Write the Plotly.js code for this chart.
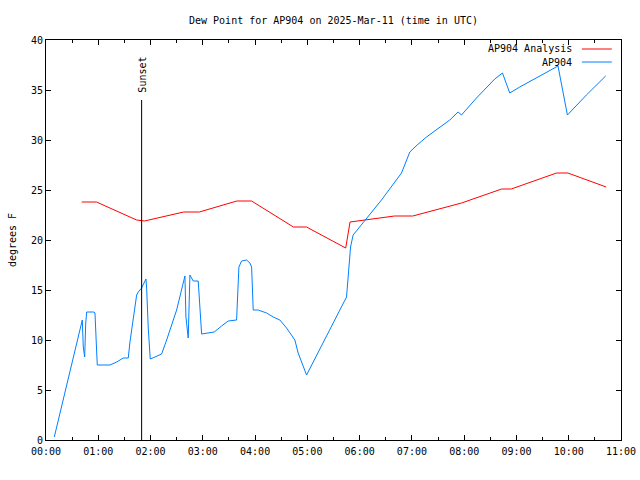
<!DOCTYPE html>
<html>
<head>
<meta charset="utf-8">
<script src="https://cdn.plot.ly/plotly-3.0.1.min.js"></script>
<style>html,body{margin:0;padding:0;background:#fff}#chart{width:640px;height:480px}</style>
</head>
<body>
<div id="chart"></div>
<script>
const DATE = '2025-03-11 ';

const analysisTimes = ['00:41:00','00:58:00','01:44:00','01:53:00','02:38:00','02:56:00','03:39:00','03:56:00',
  '04:44:00','04:59:00','05:44:00','05:49:00','06:40:00','07:01:00','07:57:00','08:43:00','08:54:00',
  '09:46:00','09:59:00','10:43:00'];
const analysisValues = [23.8,23.8,22.0,21.9,22.8,22.8,23.9,23.9,21.3,21.3,19.2,21.8,22.4,22.4,23.7,25.1,25.1,26.7,26.7,25.3];

const obsTimes = ['00:09:31','00:41:39','00:42:47','00:44:24','00:45:33','00:46:42','00:55:04','00:56:13','00:58:10','00:58:51',
  '01:13:25','01:21:06','01:28:41','01:34:25','01:36:22','01:40:09','01:44:03','01:45:53','01:49:47','01:54:43','01:55:31',
  '01:57:22','01:59:39','02:05:03','02:12:44','02:18:28','02:29:57','02:39:28','02:40:37','02:43:15','02:45:12','02:49:00',
  '02:54:43','02:58:37','03:08:08','03:13:04','03:21:33','03:29:08','03:38:46','03:39:28','03:41:25','03:44:30','03:50:15',
  '03:54:02','03:56:00','03:57:08','03:57:50','04:03:34','04:13:12','04:20:46','04:28:26','04:36:08','04:41:52','04:45:39',
  '04:49:26','04:59:05','05:44:58','05:46:48','05:49:34','05:52:32','06:00:13','06:25:05','06:48:04','06:57:36','07:06:00',
  '07:16:44','07:43:28','07:53:00','07:56:54','08:14:06','08:35:06','08:43:56','08:52:18','09:03:47','09:47:42','09:58:30',
  '10:20:18','10:42:24'];
const obsValues = [0.3,12.0,9.3,8.3,11.6,12.8,12.8,12.7,8.8,7.5,
  7.5,7.8,8.2,8.2,9.8,12.0,14.5,14.8,15.2,16.1,15.2,
  11.2,8.1,8.3,8.6,10.0,13.0,16.4,12.3,10.2,16.5,15.9,
  15.9,10.6,10.7,10.8,11.4,11.9,12.0,13.3,17.3,17.9,18.0,
  17.7,17.3,14.7,13.0,13.0,12.7,12.3,12.0,11.2,10.5,10.0,
  8.7,6.5,14.3,16.3,19.3,20.5,21.3,24.0,26.7,28.8,29.5,
  30.3,32.0,32.8,32.5,34.2,36.1,36.7,34.7,35.3,37.4,32.5,
  34.5,36.4];

const seriesNames = ['AP904 Analysis','AP904'];
const seriesColors = ['#ff0000','#0080ff'];
const sunsetTime = '01:49:47';
const sunsetTop = 34;
const sunsetLabel = 'Sunset';

const FONT = {family:'DejaVu Sans Mono, monospace', size:10, color:'#000'};

const traces = [
  {x: analysisTimes.map(t=>DATE+t), y: analysisValues, type:'scatter', mode:'lines', name:seriesNames[0],
   line:{color:seriesColors[0], width:1}},
  {x: obsTimes.map(t=>DATE+t), y: obsValues, type:'scatter', mode:'lines', name:seriesNames[1],
   line:{color:seriesColors[1], width:1}}
];

const layout = {
  width:640, height:480,
  margin:{l:46, r:19, t:40, b:40},
  paper_bgcolor:'#fff', plot_bgcolor:'#fff',
  font: FONT,
  showlegend:false,
  title:{text:'Dew Point for AP904 on 2025-Mar-11 (time in UTC)', font:FONT, x:0.5, xref:'paper', y:0.958, yanchor:'middle'},
  xaxis:{type:'date', range:[DATE+'00:00', DATE+'11:00'], dtick:3600000, tick0:DATE+'00:00',
    tickformat:'%H:%M', ticks:'inside', ticklen:5, tickcolor:'#000', showline:true, linecolor:'#000', linewidth:1,
    mirror:'ticks', showgrid:false, zeroline:false, tickfont:FONT, ticklabelstandoff:2,
    minor:{dtick:1800000, ticks:'inside', ticklen:3, tickcolor:'#000', showgrid:false}},
  yaxis:{range:[0,40], dtick:5, ticks:'inside', ticklen:5, tickcolor:'#000', showline:true, linecolor:'#000', linewidth:1,
    mirror:'ticks', showgrid:false, zeroline:false, tickfont:FONT,
    title:{text:'degrees F', font:FONT, standoff:12}},
  shapes:[
    {type:'line', xref:'x', yref:'y', x0:DATE+sunsetTime, x1:DATE+sunsetTime, y0:0, y1:sunsetTop, line:{color:'#000', width:1}},
    {type:'line', xref:'paper', yref:'paper', x0:0.932, x1:0.984, y0:0.9775, y1:0.9775, line:{color:seriesColors[0], width:1}},
    {type:'line', xref:'paper', yref:'paper', x0:0.932, x1:0.984, y0:0.945, y1:0.945, line:{color:seriesColors[1], width:1}}
  ],
  annotations:[
    {x:DATE+sunsetTime, y:sunsetTop, xref:'x', yref:'y', text:sunsetLabel, textangle:-90, showarrow:false,
     xanchor:'center', yanchor:'bottom', yshift:5, font:FONT},
    {xref:'paper', yref:'paper', x:0.919, y:0.9775, text:seriesNames[0], showarrow:false, xanchor:'right', yanchor:'middle', font:FONT},
    {xref:'paper', yref:'paper', x:0.919, y:0.945, text:seriesNames[1], showarrow:false, xanchor:'right', yanchor:'middle', font:FONT}
  ]
};

Plotly.newPlot('chart', traces, layout, {displayModeBar:false, staticPlot:true});
</script>
</body>
</html>
